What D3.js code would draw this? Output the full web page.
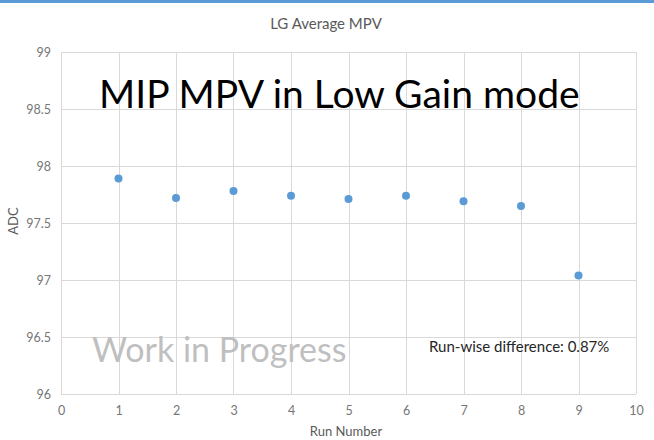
<!DOCTYPE html>
<html>
<head>
<meta charset="utf-8">
<script src="https://cdn.jsdelivr.net/npm/d3@7"></script>
<style>
  html, body { margin: 0; padding: 0; background: #fff; }
  svg { display: block; font-family: Lato, "Open Sans", sans-serif; }
</style>
</head>
<body>
<svg id="chart" width="654" height="440"></svg>
<script>
// Average MIP most-probable value per run, low-gain mode
const runs = [1, 2, 3, 4, 5, 6, 7, 8, 9];
const mpv = [97.89, 97.72, 97.78, 97.74, 97.71, 97.74, 97.69, 97.65, 97.04];
const xTicks = [0, 1, 2, 3, 4, 5, 6, 7, 8, 9, 10];
const yTicks = [96, 96.5, 97, 97.5, 98, 98.5, 99];

const svg = d3.select("#chart");
const W = 654, H = 440;
const m = { left: 61, right: 18, top: 52, bottom: 46 };

// top accent stripe
svg.append("rect").attr("x", 0).attr("y", 0).attr("width", W).attr("height", 3).attr("fill", "#5b9bd5");

const x = d3.scaleLinear().domain([0, 10]).range([m.left, W - m.right]);
const y = d3.scaleLinear().domain([96, 99]).range([H - m.bottom, m.top]);

// gridlines
const grid = svg.append("g").attr("stroke", "#d9d9d9").attr("stroke-width", 1);
grid.selectAll(".gx").data(xTicks).join("line")
  .attr("x1", d => Math.round(x(d)) + 0.5).attr("x2", d => Math.round(x(d)) + 0.5)
  .attr("y1", y(99)).attr("y2", y(96));
grid.selectAll(".gy").data(yTicks).join("line")
  .attr("x1", x(0)).attr("x2", x(10))
  .attr("y1", d => Math.round(y(d)) + 0.5).attr("y2", d => Math.round(y(d)) + 0.5);

// axes (labels only, lines drawn by grid)
const xAxis = d3.axisBottom(x).tickValues(xTicks).tickSize(0).tickPadding(12).tickFormat(d3.format("d"));
const yAxis = d3.axisLeft(y).tickValues(yTicks).tickSize(0).tickPadding(10).tickFormat(d => d);
const gx = svg.append("g").attr("transform", `translate(0,${y(96)})`).call(xAxis);
const gy = svg.append("g").attr("transform", `translate(${x(0)},0)`).call(yAxis);
[gx, gy].forEach(g => {
  g.select(".domain").remove();
  g.selectAll("text").attr("fill", "#767676").style("font-size", "12.5px").style("font-family", "Lato, 'Open Sans', sans-serif");
});

// title
svg.append("text").attr("x", 326).attr("y", 29).attr("text-anchor", "middle")
  .attr("fill", "#595959").style("font-size", "15px").text("LG Average MPV");

// axis titles
svg.append("text").attr("x", 346).attr("y", 436).attr("text-anchor", "middle")
  .attr("fill", "#595959").style("font-size", "13px").text("Run Number");
svg.append("text").attr("transform", "translate(18,221) rotate(-90)").attr("text-anchor", "middle")
  .attr("fill", "#595959").style("font-size", "13px").text("ADC");

// points
svg.append("g").selectAll("circle").data(runs).join("circle")
  .attr("cx", (d, i) => x(d)).attr("cy", (d, i) => y(mpv[i]))
  .attr("r", 4).attr("fill", "#5b9bd5");

// annotations
svg.append("text").attr("x", 99).attr("y", 108)
  .attr("fill", "#000").style("font-size", "39px").text("MIP MPV in Low Gain mode");
svg.append("text").attr("x", 92).attr("y", 362)
  .attr("fill", "#bfbfbf").style("font-size", "34px").text("Work in Progress");
const diff = (mpv[0] - mpv[8]) / mpv[0] * 100;
svg.append("text").attr("x", 429).attr("y", 352)
  .attr("fill", "#262626").style("font-size", "15px").text(`Run-wise difference: ${diff.toFixed(2)}%`);
</script>
</body>
</html>
